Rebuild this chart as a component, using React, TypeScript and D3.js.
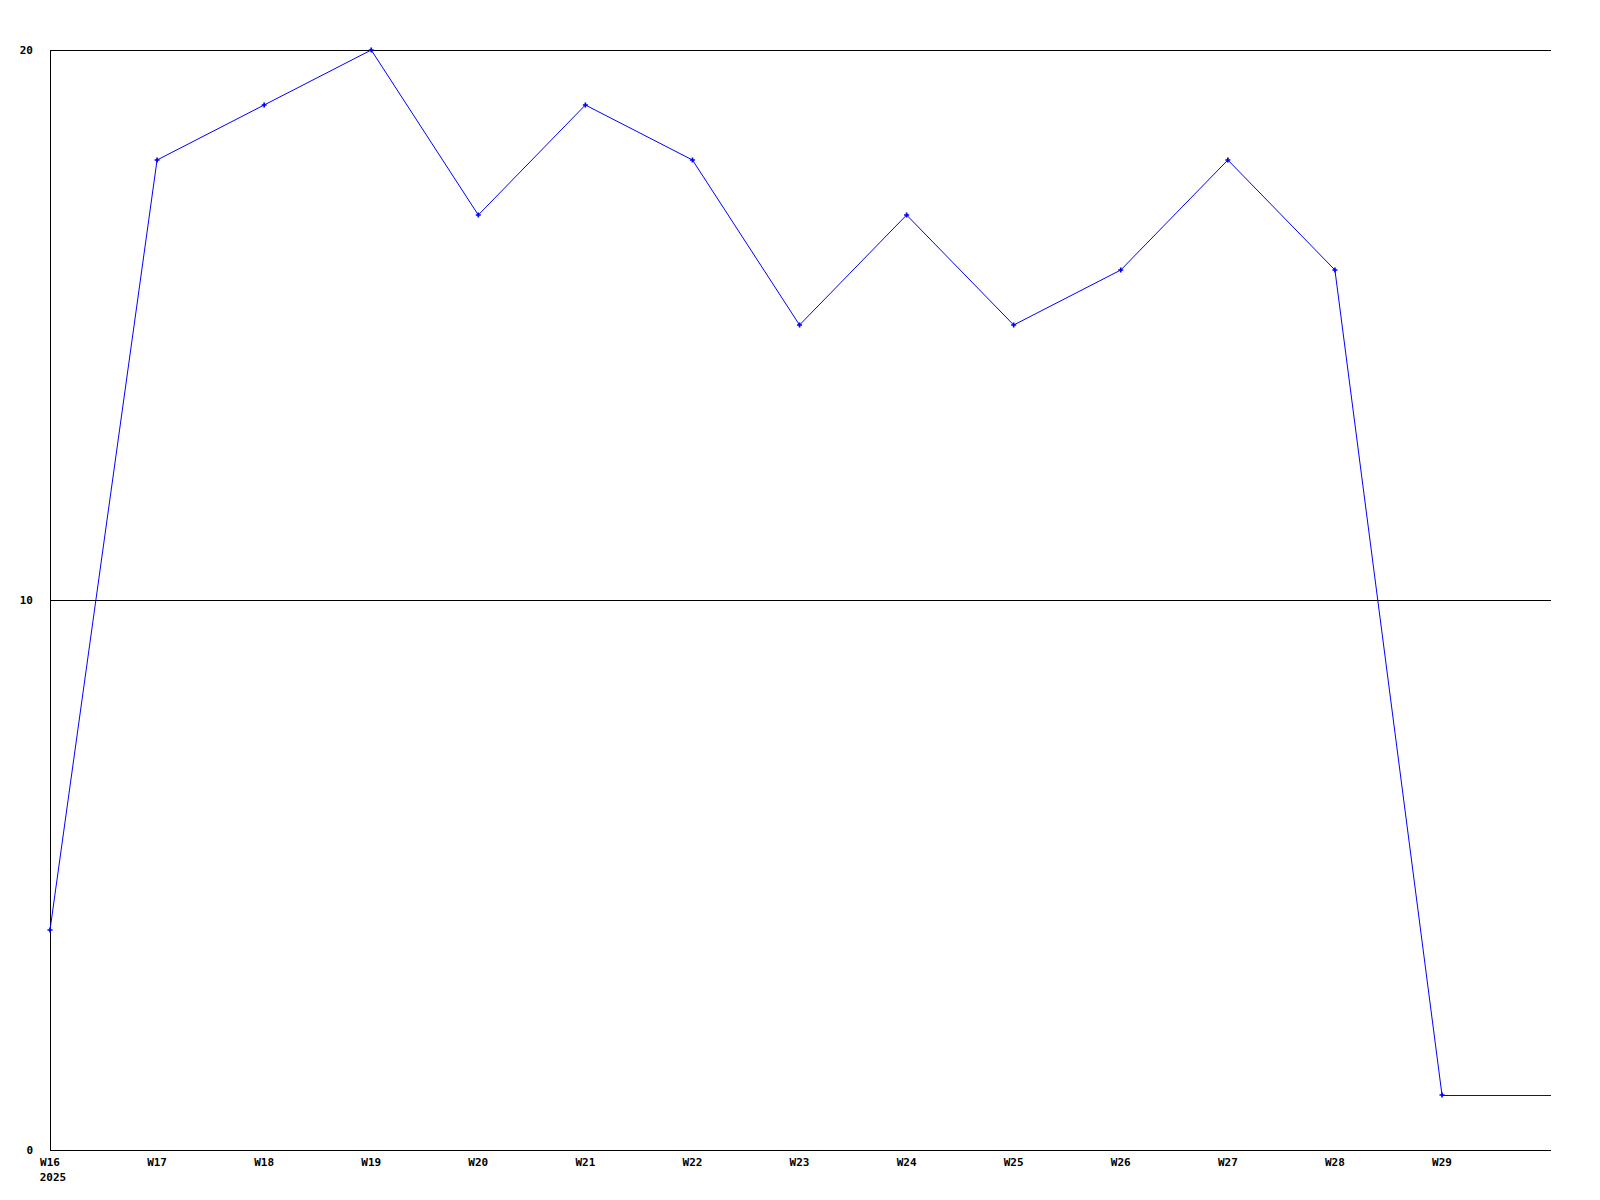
import React from "react";
import * as d3 from "d3";

const weeks = ["W16", "W17", "W18", "W19", "W20", "W21", "W22", "W23", "W24", "W25", "W26", "W27", "W28", "W29"];
const values = [4, 18, 19, 20, 17, 19, 18, 15, 17, 15, 16, 18, 16, 1];
const yTicks = [0, 10, 20];
const yearLabel = "2025";

export default function App() {
  const W = 1600, H = 1200;
  const left = 50, right = 1551, top = 50, bottom = 1150;
  const x = d3.scaleLinear().domain([0, 13]).range([left, 1442]);
  const y = d3.scaleLinear().domain([0, 20]).range([bottom, top]);
  const line = d3.line<number>().x((_, i) => x(i)).y((d) => y(d));
  const path = line(values) as string;
  const last = values[values.length - 1];
  const font = "'DejaVu Sans Mono', monospace";
  const marker = d3.symbol().type(d3.symbolCross).size(14)() as string;
  return (
    <svg width={W} height={H} style={{ position: "absolute", left: 0, top: 0, background: "#fff" }}
      shapeRendering="crispEdges">
      <rect x={0} y={0} width={W} height={H} fill="#fff" />
      {yTicks.filter((t) => t > 0).map((t) => (
        <line key={t} x1={left} x2={right} y1={y(t) + 0.5} y2={y(t) + 0.5} stroke="#000" strokeWidth={1} />
      ))}
      <line x1={left + 0.5} x2={left + 0.5} y1={top} y2={bottom + 1} stroke="#000" />
      <line x1={left} x2={right} y1={bottom + 0.5} y2={bottom + 0.5} stroke="#000" />
      {yTicks.map((t) => (
        <text key={t} x={33} y={y(t)} dy="0.35em" textAnchor="end" fontFamily={font} fontWeight="bold" fontSize={11} fill="#000">
          {t}
        </text>
      ))}
      {weeks.map((w, i) => (
        <text key={w} x={x(i)} y={1162} dy="0.35em" textAnchor="middle" fontFamily={font} fontWeight="bold" fontSize={11} fill="#000">
          {w}
        </text>
      ))}
      <text x={x(0) + 3} y={1177} dy="0.35em" textAnchor="middle" fontFamily={font} fontWeight="bold" fontSize={11} fill="#000">
        {yearLabel}
      </text>
      <g shapeRendering="auto">
        <path d={path} fill="none" stroke="#0000ff" strokeWidth={1} />
        <line x1={x(values.length - 1)} x2={right} y1={y(last) + 0.5} y2={y(last) + 0.5} stroke="#0000ff" strokeWidth={1} shapeRendering="crispEdges" />
        {values.map((v, i) => (
          <path key={i} d={marker} transform={`translate(${x(i)},${y(v)})`} fill="#0000ff" />
        ))}
      </g>
    </svg>
  );
}
